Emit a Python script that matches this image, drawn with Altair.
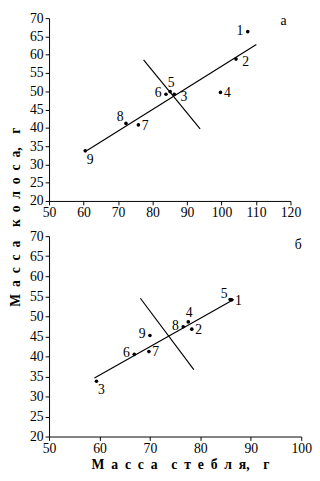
import altair as alt
import pandas as pd

FONT = "Liberation Serif"

# ---------------- data ----------------
ids = ["1", "2", "3", "4", "5", "6", "7", "8", "9"]

# panel а
a_stem = [107.6, 104.2, 86.3, 99.7, 85.1, 83.9, 75.9, 72.3, 60.5]
a_ear = [66.3, 58.8, 49.2, 49.7, 49.9, 49.2, 40.8, 41.2, 33.7]
a_place = ["l", "rr", "rr", "r", "u", "l", "r", "ul", "dr"]
a_reg_x = [61.0, 110.1]
a_reg_y = [33.8, 62.8]
a_perp_x = [77.4, 93.8]
a_perp_y = [58.6, 39.7]

# panel б
b_stem = [86.2, 78.3, 59.4, 77.6, 85.9, 66.9, 69.8, 76.6, 70.0]
b_ear = [54.1, 46.8, 33.8, 48.6, 54.2, 40.5, 41.2, 47.4, 45.2]
b_place = ["r", "r", "dr", "u", "ul", "l", "r", "l", "l"]
b_reg_x = [59.0, 86.6]
b_reg_y = [34.6, 54.2]
b_perp_x = [68.1, 78.7]
b_perp_y = [54.5, 36.7]

a_xticks = [50, 60, 70, 80, 90, 100, 110, 120]
b_xticks = [50, 60, 70, 80, 90, 100]
yticks = [20, 25, 30, 35, 40, 45, 50, 55, 60, 65, 70]

panel_letters = ["а", "б"]
letter_x = [118.0, 99.4]
letter_y = [69.2, 67.7]

S = "\u2002"
y_title = S.join("Масса") + S + S + S.join("колоса") + "," + S + S + "г"
x_title = S.join("Масса") + S + S + S.join("стебля") + "," + S + S + "г"

# label placement offsets (pixels)
OFFS = {
    "r": (7, 1),
    "rr": (10, 3),
    "l": (-8, -1),
    "u": (1, -9),
    "ul": (-6, -6),
    "dr": (5, 9),
}


def panel(stem, ear, place, reg_x, reg_y, perp_x, perp_y, letter, lx, ly,
          xmax, xticks, width, height, titles):
    pts = pd.DataFrame({"x": stem, "y": ear, "id": ids, "place": place})
    lines = pd.DataFrame({
        "x": reg_x + perp_x,
        "y": reg_y + perp_y,
        "line": ["reg", "reg", "perp", "perp"],
    })
    lab = pd.DataFrame({"x": [lx], "y": [ly], "t": [letter]})

    xaxis_kw = dict(values=xticks, tickSize=4, labelFont=FONT, labelFontSize=14,
                    labelColor="black", domainColor="black", tickColor="black",
                    grid=False, labelPadding=1, labelFlush=False)
    yaxis_kw = dict(values=yticks, tickSize=4, labelFont=FONT, labelFontSize=14,
                    labelColor="black", domainColor="black", tickColor="black",
                    grid=False, labelPadding=2)
    if titles:
        xaxis_kw.update(title=x_title, titleFont=FONT, titleFontSize=14,
                        titleFontWeight="bold", titleColor="black",
                        titleX=134, titleY=29, titleBaseline="middle")
        yaxis_kw.update(title=y_title, titleFont=FONT, titleFontSize=14,
                        titleFontWeight="bold", titleColor="black",
                        titleX=-34, titleY=-20, titleAngle=-90,
                        titleBaseline="middle", titleAlign="center")
    else:
        xaxis_kw.update(title=None)
        yaxis_kw.update(title=None)

    X = alt.X("x:Q", scale=alt.Scale(domain=[50, xmax], nice=False, zero=False),
              axis=alt.Axis(**xaxis_kw))
    Y = alt.Y("y:Q", scale=alt.Scale(domain=[20, 70], nice=False, zero=False),
              axis=alt.Axis(**yaxis_kw))

    line_layer = alt.Chart(lines).mark_line(color="black", strokeWidth=1.2).encode(
        x=X, y=Y, detail="line:N")
    dots = alt.Chart(pts).mark_circle(color="black", size=14, opacity=1).encode(x=X, y=Y)

    layers = [line_layer, dots]
    for key, (dx, dy) in OFFS.items():
        layers.append(
            alt.Chart(pts).transform_filter(alt.datum.place == key)
            .mark_text(font=FONT, fontSize=14, color="black", dx=dx, dy=dy,
                       align="center", baseline="middle")
            .encode(x=X, y=Y, text="id:N")
        )
    layers.append(
        alt.Chart(lab).mark_text(font=FONT, fontSize=14, color="black",
                                 align="center", baseline="middle")
        .encode(x=X, y=Y, text="t:N")
    )
    return alt.layer(*layers).properties(width=width, height=height)


top = panel(a_stem, a_ear, a_place, a_reg_x, a_reg_y, a_perp_x, a_perp_y,
            panel_letters[0], letter_x[0], letter_y[0], 120, a_xticks, 247, 187, False)
bottom = panel(b_stem, b_ear, b_place, b_reg_x, b_reg_y, b_perp_x, b_perp_y,
               panel_letters[1], letter_x[1], letter_y[1], 100, b_xticks, 258, 205, True)

chart = (
    alt.vconcat(top, bottom, spacing=36, bounds="flush")
    .properties(padding={"left": 0, "top": -2, "right": 0, "bottom": 0},
                background="white")
    .configure_view(stroke=None)
)

chart.save("out.html", embed_options={"renderer": "svg", "actions": False})
